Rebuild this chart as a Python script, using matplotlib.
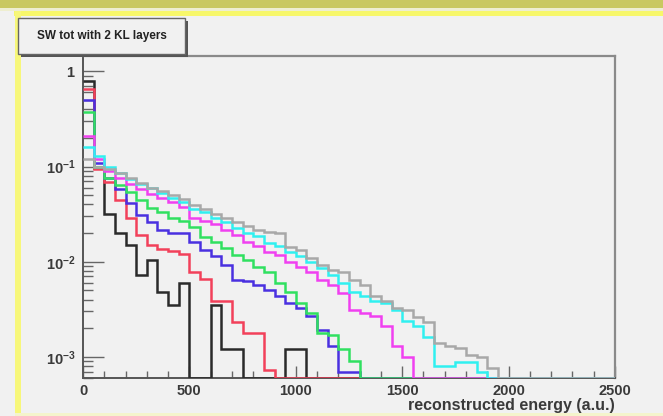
import numpy as np
import matplotlib
matplotlib.use("Agg")
import matplotlib.pyplot as plt
from matplotlib.patches import Rectangle
from matplotlib.ticker import FixedLocator, MultipleLocator, NullFormatter

# ---------------- data (bin contents, 50 bins of width 50 from 0 to 2500) ----------------
bin_edges = list(range(0, 2501, 50))

black = [0.80, 0.096, 0.032, 0.020, 0.015, 0.0072, 0.0104, 0.0048, 0.0035, 0.006,
         0, 0, 0.0035, 0.0012, 0.0012, 0, 0, 0, 0, 0.0012,
         0.0012, 0, 0, 0, 0, 0, 0, 0, 0, 0,
         0, 0, 0, 0, 0, 0, 0, 0, 0, 0,
         0, 0, 0, 0, 0, 0, 0, 0, 0, 0]
red = [0.66, 0.095, 0.068, 0.044, 0.029, 0.019, 0.015, 0.0135, 0.013, 0.012,
       0.0078, 0.0066, 0.0039, 0.0039, 0.0023, 0.0018, 0.0018, 0.00073, 0, 0,
       0, 0, 0, 0, 0, 0, 0, 0, 0, 0,
       0, 0, 0, 0, 0, 0, 0, 0, 0, 0,
       0, 0, 0, 0, 0, 0, 0, 0, 0, 0]
blue = [0.50, 0.11, 0.075, 0.058, 0.041, 0.031, 0.026, 0.0215, 0.020, 0.020,
        0.016, 0.0133, 0.0114, 0.0092, 0.0064, 0.0063, 0.0057, 0.005, 0.0044, 0.0037,
        0.0033, 0.0027, 0.0019, 0.0013, 0.0007, 0.0007, 0, 0, 0, 0,
        0, 0, 0, 0, 0, 0, 0, 0, 0, 0,
        0, 0, 0, 0, 0, 0, 0, 0, 0, 0]
green = [0.37, 0.10, 0.075, 0.064, 0.054, 0.044, 0.037, 0.033, 0.029, 0.027,
         0.023, 0.018, 0.016, 0.014, 0.0117, 0.0104, 0.0088, 0.0078, 0.006, 0.0048,
         0.0037, 0.0029, 0.0018, 0.0017, 0.0012, 0.0009, 0.0006, 0, 0, 0,
         0, 0, 0, 0, 0, 0, 0, 0, 0, 0,
         0, 0, 0, 0, 0, 0, 0, 0, 0, 0]
magenta = [0.21, 0.12, 0.09, 0.075, 0.065, 0.058, 0.052, 0.047, 0.042, 0.038,
           0.029, 0.027, 0.025, 0.0215, 0.019, 0.016, 0.0146, 0.0127, 0.0117, 0.0099,
           0.0088, 0.0078, 0.0064, 0.0057, 0.0047, 0.0031, 0.0029, 0.0027, 0.0021, 0.0013,
           0.001, 0, 0, 0, 0, 0, 0, 0, 0, 0,
           0, 0, 0, 0, 0, 0, 0, 0, 0, 0]
cyan = [0.16, 0.13, 0.10, 0.085, 0.074, 0.066, 0.060, 0.053, 0.047, 0.042,
        0.036, 0.033, 0.029, 0.026, 0.0225, 0.020, 0.0186, 0.0157, 0.0146, 0.0125,
        0.0114, 0.0099, 0.0086, 0.0072, 0.006, 0.0048, 0.0044, 0.0039, 0.0037, 0.0031,
        0.0024, 0.0021, 0.0016, 0.0008, 0.0008, 0.00088, 0.00088, 0.0007, 0, 0,
        0, 0, 0, 0, 0, 0, 0, 0, 0, 0]
gray = [0.12, 0.10, 0.095, 0.085, 0.075, 0.067, 0.060, 0.055, 0.050, 0.046,
        0.039, 0.036, 0.032, 0.029, 0.026, 0.024, 0.0215, 0.0205, 0.020, 0.0143,
        0.0133, 0.011, 0.0092, 0.0082, 0.0078, 0.0064, 0.0057, 0.0044, 0.0039, 0.0033,
        0.0031, 0.0026, 0.0023, 0.0014, 0.0013, 0.00125, 0.00105, 0.001, 0.00077, 0,
        0, 0, 0, 0, 0, 0, 0, 0, 0, 0]

series = [black, red, blue, green, magenta, cyan, gray]
colors = ["#2a2a2a", "#f2405a", "#4a30e0", "#30e060", "#f040f0", "#30f0f0", "#a8a8a8"]

title_text = "SW tot with 2 KL layers"
x_label = "reconstructed energy (a.u.)"
x_ticks = [0, 500, 1000, 1500, 2000, 2500]
y_ticks = [1e-3, 1e-2, 1e-1, 1]
y_ticklabels = [r"$\mathbf{10^{-3}}$", r"$\mathbf{10^{-2}}$", r"$\mathbf{10^{-1}}$", r"$\mathbf{1}$"]

# ---------------- figure ----------------
W, H = 663, 416
BG = "#f1f1f1"
plt.rcParams["font.family"] = ["Liberation Sans", "DejaVu Sans"]
plt.rcParams["mathtext.fontset"] = "custom"
plt.rcParams["mathtext.rm"] = "Liberation Sans"
plt.rcParams["mathtext.bf"] = "Liberation Sans:bold"

fig = plt.figure(figsize=(W / 100, H / 100), dpi=100, facecolor=BG)


def px_rect(x0, y0, x1, y1, **kw):
    r = Rectangle((x0 / W, 1 - y1 / H), (x1 - x0) / W, (y1 - y0) / H,
                  transform=fig.transFigure, **kw)
    fig.add_artist(r)
    return r


# pad decorations (yellow borders)
px_rect(0, 0, W, 8, facecolor="#c9c860", edgecolor="none", zorder=0)
px_rect(0, 8, W, 11, facecolor="#eeeed0", edgecolor="none", zorder=0)
px_rect(14, 11, W, 16, facecolor="#f7f76a", edgecolor="none", zorder=0)
px_rect(15, 11, 21, H, facecolor="#f7f77a", edgecolor="none", zorder=0)
px_rect(15, 413, W, H, facecolor="#f4f4cc", edgecolor="none", zorder=0)

# axes
ax_l, ax_r, ax_t, ax_b = 83, 615, 56, 378
ax = fig.add_axes([ax_l / W, 1 - ax_b / H, (ax_r - ax_l) / W, (ax_b - ax_t) / H])
ax.set_facecolor(BG)

YMIN, YMAX = 6.0e-4, 1.45
ax.set_yscale("log")
ax.set_xlim(0, 2500)
ax.set_ylim(YMIN, YMAX)

for vals, col in zip(series, colors):
    v = np.asarray(vals, dtype=float)
    v = np.where(v > 0, v, YMIN)
    ax.stairs(v, bin_edges, baseline=None, color=col, lw=1.8, zorder=3)

for side in ["left", "bottom"]:
    ax.spines[side].set_color("#555555")
    ax.spines[side].set_linewidth(1.4)
for side in ["right", "top"]:
    ax.spines[side].set_color("#8a8a8a")
    ax.spines[side].set_linewidth(1.6)

FS = 10.5
ax.xaxis.set_major_locator(FixedLocator(x_ticks))
ax.xaxis.set_minor_locator(MultipleLocator(100))
ax.set_xticklabels([str(t) for t in x_ticks], fontsize=FS, fontweight="bold", color="#3a3a3a")
ax.yaxis.set_major_locator(FixedLocator(y_ticks))
minors = [m * 10.0 ** e for e in (-4, -3, -2, -1, 0) for m in range(2, 10)]
ax.yaxis.set_minor_locator(FixedLocator(minors))
ax.yaxis.set_minor_formatter(NullFormatter())
ax.set_yticklabels(y_ticklabels, fontsize=FS, color="#3a3a3a")

ax.tick_params(axis="x", which="major", direction="in", length=9, width=1.0, color="#666666", pad=4)
ax.tick_params(axis="x", which="minor", direction="in", length=5, width=1.0, color="#666666")
ax.tick_params(axis="y", which="major", direction="in", length=15, width=1.0, color="#666666", pad=5)
ax.tick_params(axis="y", which="minor", direction="in", length=7, width=1.0, color="#666666")

ax.set_xlabel(x_label, fontsize=11.5, fontweight="bold", color="#3a3a3a", loc="right", labelpad=0)

# title box with shadow
px_rect(21, 21, 188, 57, facecolor="#555555", edgecolor="none", zorder=5)
px_rect(18, 18, 185, 54, facecolor=BG, edgecolor="#666666", lw=1.0, zorder=6)
fig.text((18 + 185) / 2 / W, 1 - 36 / H, title_text, ha="center", va="center",
         fontsize=8.5, fontweight="bold", color="#222222", zorder=7)

fig.savefig("out.png", dpi=100, facecolor=BG)
